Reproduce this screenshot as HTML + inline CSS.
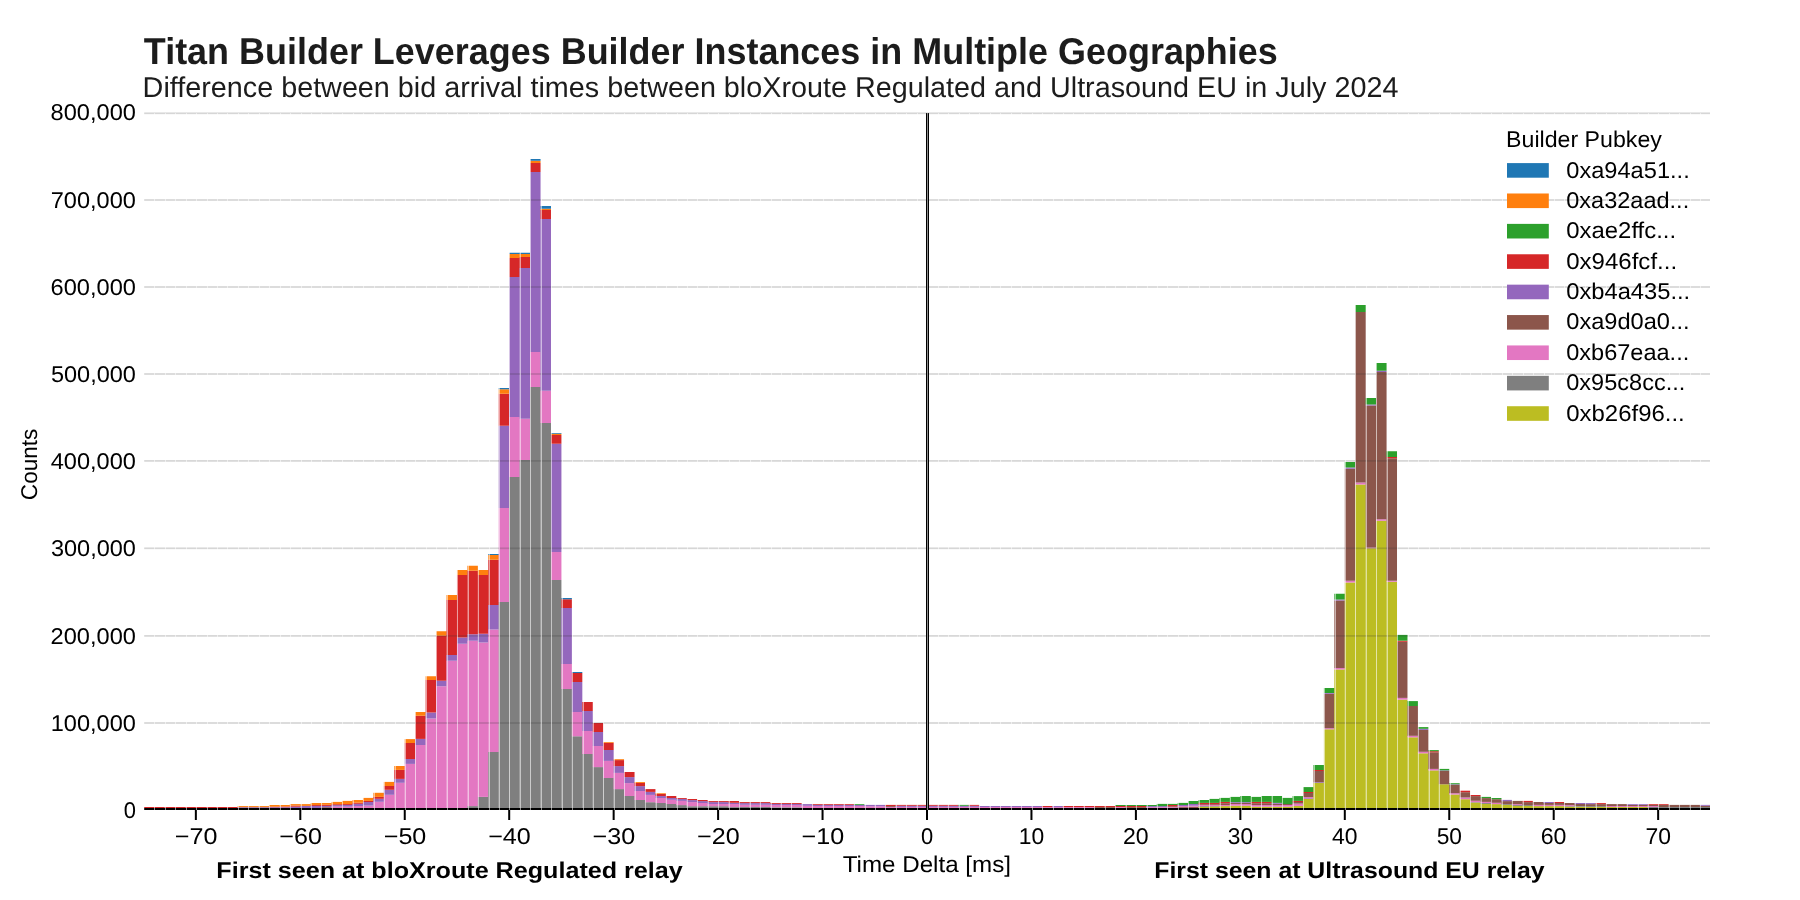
<!DOCTYPE html><html><head><meta charset="utf-8"><style>html,body{margin:0;padding:0;background:#fff;overflow:hidden}svg{display:block;will-change:transform}text{font-family:"Liberation Sans",sans-serif;text-rendering:geometricPrecision}</style></head><body>
<svg width="1800" height="900" viewBox="0 0 1800 900">
<rect width="1800" height="900" fill="#fff"/>
<g>
<rect x="144.20" y="807.00" width="9.87" height="1.00" fill="#d62728"/>
<rect x="154.07" y="807.00" width="10.45" height="1.00" fill="#d62728"/>
<rect x="164.51" y="807.00" width="10.45" height="1.00" fill="#d62728"/>
<rect x="174.96" y="807.00" width="10.44" height="1.00" fill="#d62728"/>
<rect x="185.40" y="807.00" width="10.45" height="1.00" fill="#d62728"/>
<rect x="195.85" y="807.00" width="10.44" height="1.00" fill="#d62728"/>
<rect x="206.29" y="807.00" width="10.45" height="1.00" fill="#d62728"/>
<rect x="216.74" y="807.00" width="10.44" height="1.00" fill="#d62728"/>
<rect x="227.18" y="807.00" width="10.45" height="1.00" fill="#d62728"/>
<rect x="237.63" y="807.20" width="10.44" height="0.80" fill="#9467bd"/>
<rect x="237.63" y="806.10" width="10.44" height="1.10" fill="#ff7f0e"/>
<rect x="248.07" y="807.20" width="10.45" height="0.80" fill="#9467bd"/>
<rect x="248.07" y="806.10" width="10.45" height="1.10" fill="#ff7f0e"/>
<rect x="258.52" y="807.20" width="10.45" height="0.80" fill="#9467bd"/>
<rect x="258.52" y="806.10" width="10.45" height="1.10" fill="#ff7f0e"/>
<rect x="268.97" y="807.20" width="10.44" height="0.80" fill="#9467bd"/>
<rect x="268.97" y="806.70" width="10.44" height="0.50" fill="#d62728"/>
<rect x="268.97" y="805.00" width="10.44" height="1.70" fill="#ff7f0e"/>
<rect x="279.41" y="807.20" width="10.45" height="0.80" fill="#9467bd"/>
<rect x="279.41" y="806.50" width="10.45" height="0.70" fill="#d62728"/>
<rect x="279.41" y="805.00" width="10.45" height="1.50" fill="#ff7f0e"/>
<rect x="289.86" y="806.70" width="10.44" height="1.30" fill="#9467bd"/>
<rect x="289.86" y="805.60" width="10.44" height="1.10" fill="#d62728"/>
<rect x="289.86" y="804.10" width="10.44" height="1.50" fill="#ff7f0e"/>
<rect x="300.30" y="805.90" width="10.45" height="2.10" fill="#9467bd"/>
<rect x="300.30" y="804.10" width="10.45" height="1.80" fill="#ff7f0e"/>
<rect x="310.75" y="805.90" width="10.44" height="2.10" fill="#9467bd"/>
<rect x="310.75" y="805.00" width="10.44" height="0.90" fill="#d62728"/>
<rect x="310.75" y="803.00" width="10.44" height="2.00" fill="#ff7f0e"/>
<rect x="321.19" y="807.20" width="10.45" height="0.80" fill="#8c564b"/>
<rect x="321.19" y="805.90" width="10.45" height="1.30" fill="#9467bd"/>
<rect x="321.19" y="804.80" width="10.45" height="1.10" fill="#d62728"/>
<rect x="321.19" y="803.00" width="10.45" height="1.80" fill="#ff7f0e"/>
<rect x="331.63" y="806.50" width="10.44" height="1.50" fill="#e377c2"/>
<rect x="331.63" y="805.10" width="10.44" height="1.40" fill="#9467bd"/>
<rect x="331.63" y="804.20" width="10.44" height="0.90" fill="#d62728"/>
<rect x="331.63" y="801.90" width="10.44" height="2.30" fill="#ff7f0e"/>
<rect x="342.08" y="806.70" width="10.45" height="1.30" fill="#e377c2"/>
<rect x="342.08" y="804.90" width="10.45" height="1.80" fill="#9467bd"/>
<rect x="342.08" y="804.00" width="10.45" height="0.90" fill="#d62728"/>
<rect x="342.08" y="800.90" width="10.45" height="3.10" fill="#ff7f0e"/>
<rect x="352.52" y="806.00" width="10.45" height="2.00" fill="#e377c2"/>
<rect x="352.52" y="803.80" width="10.45" height="2.20" fill="#9467bd"/>
<rect x="352.52" y="802.70" width="10.45" height="1.10" fill="#d62728"/>
<rect x="352.52" y="800.00" width="10.45" height="2.70" fill="#ff7f0e"/>
<rect x="362.97" y="805.60" width="10.44" height="2.40" fill="#e377c2"/>
<rect x="362.97" y="802.00" width="10.44" height="3.60" fill="#9467bd"/>
<rect x="362.97" y="800.90" width="10.44" height="1.10" fill="#d62728"/>
<rect x="362.97" y="797.90" width="10.44" height="3.00" fill="#ff7f0e"/>
<rect x="373.41" y="801.80" width="10.45" height="6.20" fill="#e377c2"/>
<rect x="373.41" y="798.80" width="10.45" height="3.00" fill="#9467bd"/>
<rect x="373.41" y="796.90" width="10.45" height="1.90" fill="#d62728"/>
<rect x="373.41" y="792.80" width="10.45" height="4.10" fill="#ff7f0e"/>
<rect x="383.86" y="794.80" width="10.44" height="13.20" fill="#e377c2"/>
<rect x="383.86" y="789.80" width="10.44" height="5.00" fill="#9467bd"/>
<rect x="383.86" y="786.00" width="10.44" height="3.80" fill="#d62728"/>
<rect x="383.86" y="781.90" width="10.44" height="4.10" fill="#ff7f0e"/>
<rect x="394.30" y="782.80" width="10.45" height="25.20" fill="#e377c2"/>
<rect x="394.30" y="778.90" width="10.45" height="3.90" fill="#9467bd"/>
<rect x="394.30" y="769.90" width="10.45" height="9.00" fill="#d62728"/>
<rect x="394.30" y="766.00" width="10.45" height="3.90" fill="#ff7f0e"/>
<rect x="404.75" y="763.90" width="10.44" height="44.10" fill="#e377c2"/>
<rect x="404.75" y="759.00" width="10.44" height="4.90" fill="#9467bd"/>
<rect x="404.75" y="743.00" width="10.44" height="16.00" fill="#d62728"/>
<rect x="404.75" y="739.10" width="10.44" height="3.90" fill="#ff7f0e"/>
<rect x="415.19" y="745.00" width="10.44" height="63.00" fill="#e377c2"/>
<rect x="415.19" y="738.90" width="10.44" height="6.10" fill="#9467bd"/>
<rect x="415.19" y="715.75" width="10.44" height="23.15" fill="#d62728"/>
<rect x="415.19" y="712.00" width="10.44" height="3.75" fill="#ff7f0e"/>
<rect x="425.64" y="718.50" width="10.44" height="89.50" fill="#e377c2"/>
<rect x="425.64" y="712.50" width="10.44" height="6.00" fill="#9467bd"/>
<rect x="425.64" y="680.00" width="10.44" height="32.50" fill="#d62728"/>
<rect x="425.64" y="676.25" width="10.44" height="3.75" fill="#ff7f0e"/>
<rect x="436.08" y="686.25" width="10.44" height="121.75" fill="#e377c2"/>
<rect x="436.08" y="680.75" width="10.44" height="5.50" fill="#9467bd"/>
<rect x="436.08" y="635.75" width="10.44" height="45.00" fill="#d62728"/>
<rect x="436.08" y="631.25" width="10.44" height="4.50" fill="#ff7f0e"/>
<rect x="446.53" y="660.75" width="10.44" height="147.25" fill="#e377c2"/>
<rect x="446.53" y="655.00" width="10.44" height="5.75" fill="#9467bd"/>
<rect x="446.53" y="600.00" width="10.44" height="55.00" fill="#d62728"/>
<rect x="446.53" y="595.00" width="10.44" height="5.00" fill="#ff7f0e"/>
<rect x="456.97" y="643.75" width="10.44" height="164.25" fill="#e377c2"/>
<rect x="456.97" y="637.50" width="10.44" height="6.25" fill="#9467bd"/>
<rect x="456.97" y="575.00" width="10.44" height="62.50" fill="#d62728"/>
<rect x="456.97" y="570.00" width="10.44" height="5.00" fill="#ff7f0e"/>
<rect x="467.42" y="806.10" width="10.45" height="1.90" fill="#7f7f7f"/>
<rect x="467.42" y="640.75" width="10.45" height="165.35" fill="#e377c2"/>
<rect x="467.42" y="634.25" width="10.45" height="6.50" fill="#9467bd"/>
<rect x="467.42" y="570.75" width="10.45" height="63.50" fill="#d62728"/>
<rect x="467.42" y="565.75" width="10.45" height="5.00" fill="#ff7f0e"/>
<rect x="477.87" y="796.90" width="10.44" height="11.10" fill="#7f7f7f"/>
<rect x="477.87" y="642.50" width="10.44" height="154.40" fill="#e377c2"/>
<rect x="477.87" y="633.75" width="10.44" height="8.75" fill="#9467bd"/>
<rect x="477.87" y="575.00" width="10.44" height="58.75" fill="#d62728"/>
<rect x="477.87" y="570.00" width="10.44" height="5.00" fill="#ff7f0e"/>
<rect x="488.31" y="752.00" width="10.44" height="56.00" fill="#7f7f7f"/>
<rect x="488.31" y="629.50" width="10.44" height="122.50" fill="#e377c2"/>
<rect x="488.31" y="605.00" width="10.44" height="24.50" fill="#9467bd"/>
<rect x="488.31" y="559.75" width="10.44" height="45.25" fill="#d62728"/>
<rect x="488.31" y="555.00" width="10.44" height="4.75" fill="#ff7f0e"/>
<rect x="488.31" y="554.00" width="10.44" height="1.00" fill="#1f77b4"/>
<rect x="498.75" y="602.00" width="10.44" height="206.00" fill="#7f7f7f"/>
<rect x="498.75" y="508.00" width="10.44" height="94.00" fill="#e377c2"/>
<rect x="498.75" y="425.75" width="10.44" height="82.25" fill="#9467bd"/>
<rect x="498.75" y="393.75" width="10.44" height="32.00" fill="#d62728"/>
<rect x="498.75" y="389.25" width="10.44" height="4.50" fill="#ff7f0e"/>
<rect x="498.75" y="388.00" width="10.44" height="1.25" fill="#1f77b4"/>
<rect x="509.20" y="477.00" width="10.44" height="331.00" fill="#7f7f7f"/>
<rect x="509.20" y="417.00" width="10.44" height="60.00" fill="#e377c2"/>
<rect x="509.20" y="277.00" width="10.44" height="140.00" fill="#9467bd"/>
<rect x="509.20" y="258.00" width="10.44" height="19.00" fill="#d62728"/>
<rect x="509.20" y="254.00" width="10.44" height="4.00" fill="#ff7f0e"/>
<rect x="509.20" y="252.75" width="10.44" height="1.25" fill="#1f77b4"/>
<rect x="519.64" y="460.00" width="10.44" height="348.00" fill="#7f7f7f"/>
<rect x="519.64" y="418.75" width="10.44" height="41.25" fill="#e377c2"/>
<rect x="519.64" y="268.00" width="10.44" height="150.75" fill="#9467bd"/>
<rect x="519.64" y="257.00" width="10.44" height="11.00" fill="#d62728"/>
<rect x="519.64" y="254.00" width="10.44" height="3.00" fill="#ff7f0e"/>
<rect x="519.64" y="252.75" width="10.44" height="1.25" fill="#1f77b4"/>
<rect x="530.09" y="387.00" width="10.45" height="421.00" fill="#7f7f7f"/>
<rect x="530.09" y="352.00" width="10.45" height="35.00" fill="#e377c2"/>
<rect x="530.09" y="172.00" width="10.45" height="180.00" fill="#9467bd"/>
<rect x="530.09" y="163.00" width="10.45" height="9.00" fill="#d62728"/>
<rect x="530.09" y="160.75" width="10.45" height="2.25" fill="#ff7f0e"/>
<rect x="530.09" y="159.00" width="10.45" height="1.75" fill="#1f77b4"/>
<rect x="540.53" y="423.00" width="10.45" height="385.00" fill="#7f7f7f"/>
<rect x="540.53" y="390.75" width="10.45" height="32.25" fill="#e377c2"/>
<rect x="540.53" y="219.00" width="10.45" height="171.75" fill="#9467bd"/>
<rect x="540.53" y="210.00" width="10.45" height="9.00" fill="#d62728"/>
<rect x="540.53" y="208.75" width="10.45" height="1.25" fill="#ff7f0e"/>
<rect x="540.53" y="206.00" width="10.45" height="2.75" fill="#1f77b4"/>
<rect x="550.98" y="580.00" width="10.44" height="228.00" fill="#7f7f7f"/>
<rect x="550.98" y="552.00" width="10.44" height="28.00" fill="#e377c2"/>
<rect x="550.98" y="443.75" width="10.44" height="108.25" fill="#9467bd"/>
<rect x="550.98" y="435.00" width="10.44" height="8.75" fill="#d62728"/>
<rect x="550.98" y="433.75" width="10.44" height="1.25" fill="#ff7f0e"/>
<rect x="550.98" y="433.00" width="10.44" height="0.75" fill="#1f77b4"/>
<rect x="561.42" y="689.00" width="10.45" height="119.00" fill="#7f7f7f"/>
<rect x="561.42" y="664.00" width="10.45" height="25.00" fill="#e377c2"/>
<rect x="561.42" y="608.00" width="10.45" height="56.00" fill="#9467bd"/>
<rect x="561.42" y="599.25" width="10.45" height="8.75" fill="#d62728"/>
<rect x="561.42" y="598.00" width="10.45" height="1.25" fill="#1f77b4"/>
<rect x="571.87" y="736.25" width="10.45" height="71.75" fill="#7f7f7f"/>
<rect x="571.87" y="712.00" width="10.45" height="24.25" fill="#e377c2"/>
<rect x="571.87" y="682.00" width="10.45" height="30.00" fill="#9467bd"/>
<rect x="571.87" y="673.00" width="10.45" height="9.00" fill="#d62728"/>
<rect x="571.87" y="672.00" width="10.45" height="1.00" fill="#1f77b4"/>
<rect x="582.32" y="754.00" width="10.44" height="54.00" fill="#7f7f7f"/>
<rect x="582.32" y="731.00" width="10.44" height="23.00" fill="#e377c2"/>
<rect x="582.32" y="711.00" width="10.44" height="20.00" fill="#9467bd"/>
<rect x="582.32" y="702.00" width="10.44" height="9.00" fill="#d62728"/>
<rect x="592.76" y="767.10" width="10.44" height="40.90" fill="#7f7f7f"/>
<rect x="592.76" y="746.00" width="10.44" height="21.10" fill="#e377c2"/>
<rect x="592.76" y="732.00" width="10.44" height="14.00" fill="#9467bd"/>
<rect x="592.76" y="723.00" width="10.44" height="9.00" fill="#d62728"/>
<rect x="603.20" y="778.00" width="10.45" height="30.00" fill="#7f7f7f"/>
<rect x="603.20" y="760.90" width="10.45" height="17.10" fill="#e377c2"/>
<rect x="603.20" y="750.00" width="10.45" height="10.90" fill="#9467bd"/>
<rect x="603.20" y="742.90" width="10.45" height="7.10" fill="#d62728"/>
<rect x="603.20" y="742.10" width="10.45" height="0.80" fill="#ff7f0e"/>
<rect x="613.65" y="789.10" width="10.45" height="18.90" fill="#7f7f7f"/>
<rect x="613.65" y="772.90" width="10.45" height="16.20" fill="#e377c2"/>
<rect x="613.65" y="766.10" width="10.45" height="6.80" fill="#9467bd"/>
<rect x="613.65" y="760.10" width="10.45" height="6.00" fill="#d62728"/>
<rect x="613.65" y="759.20" width="10.45" height="0.90" fill="#ff7f0e"/>
<rect x="624.10" y="796.00" width="10.44" height="12.00" fill="#7f7f7f"/>
<rect x="624.10" y="783.10" width="10.44" height="12.90" fill="#e377c2"/>
<rect x="624.10" y="777.10" width="10.44" height="6.00" fill="#9467bd"/>
<rect x="624.10" y="772.00" width="10.44" height="5.10" fill="#d62728"/>
<rect x="634.54" y="800.00" width="10.45" height="8.00" fill="#7f7f7f"/>
<rect x="634.54" y="791.00" width="10.45" height="9.00" fill="#e377c2"/>
<rect x="634.54" y="786.10" width="10.45" height="4.90" fill="#9467bd"/>
<rect x="634.54" y="782.90" width="10.45" height="3.20" fill="#d62728"/>
<rect x="634.54" y="782.00" width="10.45" height="0.90" fill="#ff7f0e"/>
<rect x="644.99" y="802.20" width="10.45" height="5.80" fill="#7f7f7f"/>
<rect x="644.99" y="794.90" width="10.45" height="7.30" fill="#e377c2"/>
<rect x="644.99" y="791.90" width="10.45" height="3.00" fill="#9467bd"/>
<rect x="644.99" y="789.10" width="10.45" height="2.80" fill="#d62728"/>
<rect x="655.43" y="803.00" width="10.44" height="5.00" fill="#7f7f7f"/>
<rect x="655.43" y="798.00" width="10.44" height="5.00" fill="#e377c2"/>
<rect x="655.43" y="796.00" width="10.44" height="2.00" fill="#9467bd"/>
<rect x="655.43" y="793.90" width="10.44" height="2.10" fill="#d62728"/>
<rect x="655.43" y="793.20" width="10.44" height="0.70" fill="#ff7f0e"/>
<rect x="665.88" y="804.00" width="10.44" height="4.00" fill="#7f7f7f"/>
<rect x="665.88" y="799.80" width="10.44" height="4.20" fill="#e377c2"/>
<rect x="665.88" y="798.00" width="10.44" height="1.80" fill="#9467bd"/>
<rect x="665.88" y="796.00" width="10.44" height="2.00" fill="#d62728"/>
<rect x="676.32" y="805.10" width="10.45" height="2.90" fill="#7f7f7f"/>
<rect x="676.32" y="800.90" width="10.45" height="4.20" fill="#e377c2"/>
<rect x="676.32" y="798.90" width="10.45" height="2.00" fill="#9467bd"/>
<rect x="676.32" y="798.00" width="10.45" height="0.90" fill="#d62728"/>
<rect x="686.76" y="806.20" width="10.45" height="1.80" fill="#7f7f7f"/>
<rect x="686.76" y="802.10" width="10.45" height="4.10" fill="#e377c2"/>
<rect x="686.76" y="800.10" width="10.45" height="2.00" fill="#9467bd"/>
<rect x="686.76" y="799.00" width="10.45" height="1.10" fill="#d62728"/>
<rect x="697.21" y="806.20" width="10.44" height="1.80" fill="#7f7f7f"/>
<rect x="697.21" y="803.00" width="10.44" height="3.20" fill="#e377c2"/>
<rect x="697.21" y="801.10" width="10.44" height="1.90" fill="#9467bd"/>
<rect x="697.21" y="800.00" width="10.44" height="1.10" fill="#d62728"/>
<rect x="707.65" y="806.20" width="10.45" height="1.80" fill="#7f7f7f"/>
<rect x="707.65" y="804.00" width="10.45" height="2.20" fill="#e377c2"/>
<rect x="707.65" y="802.10" width="10.45" height="1.90" fill="#9467bd"/>
<rect x="707.65" y="801.10" width="10.45" height="1.00" fill="#d62728"/>
<rect x="718.10" y="806.20" width="10.44" height="1.80" fill="#7f7f7f"/>
<rect x="718.10" y="804.00" width="10.44" height="2.20" fill="#e377c2"/>
<rect x="718.10" y="802.10" width="10.44" height="1.90" fill="#9467bd"/>
<rect x="718.10" y="801.10" width="10.44" height="1.00" fill="#d62728"/>
<rect x="728.54" y="807.10" width="10.45" height="0.90" fill="#7f7f7f"/>
<rect x="728.54" y="804.00" width="10.45" height="3.10" fill="#e377c2"/>
<rect x="728.54" y="802.80" width="10.45" height="1.20" fill="#9467bd"/>
<rect x="728.54" y="801.00" width="10.45" height="1.80" fill="#d62728"/>
<rect x="738.99" y="807.00" width="10.44" height="1.00" fill="#7f7f7f"/>
<rect x="738.99" y="804.80" width="10.44" height="2.20" fill="#e377c2"/>
<rect x="738.99" y="803.10" width="10.44" height="1.70" fill="#9467bd"/>
<rect x="738.99" y="802.10" width="10.44" height="1.00" fill="#d62728"/>
<rect x="749.43" y="807.00" width="10.45" height="1.00" fill="#7f7f7f"/>
<rect x="749.43" y="804.80" width="10.45" height="2.20" fill="#e377c2"/>
<rect x="749.43" y="803.10" width="10.45" height="1.70" fill="#9467bd"/>
<rect x="749.43" y="802.10" width="10.45" height="1.00" fill="#d62728"/>
<rect x="759.88" y="807.00" width="10.45" height="1.00" fill="#7f7f7f"/>
<rect x="759.88" y="804.80" width="10.45" height="2.20" fill="#e377c2"/>
<rect x="759.88" y="803.10" width="10.45" height="1.70" fill="#9467bd"/>
<rect x="759.88" y="802.10" width="10.45" height="1.00" fill="#d62728"/>
<rect x="770.33" y="807.30" width="10.44" height="0.70" fill="#7f7f7f"/>
<rect x="770.33" y="805.00" width="10.44" height="2.30" fill="#e377c2"/>
<rect x="770.33" y="804.00" width="10.44" height="1.00" fill="#9467bd"/>
<rect x="770.33" y="803.10" width="10.44" height="0.90" fill="#d62728"/>
<rect x="780.77" y="807.30" width="10.45" height="0.70" fill="#7f7f7f"/>
<rect x="780.77" y="805.00" width="10.45" height="2.30" fill="#e377c2"/>
<rect x="780.77" y="804.00" width="10.45" height="1.00" fill="#9467bd"/>
<rect x="780.77" y="803.10" width="10.45" height="0.90" fill="#d62728"/>
<rect x="791.22" y="807.30" width="10.44" height="0.70" fill="#7f7f7f"/>
<rect x="791.22" y="805.00" width="10.44" height="2.30" fill="#e377c2"/>
<rect x="791.22" y="804.00" width="10.44" height="1.00" fill="#9467bd"/>
<rect x="791.22" y="803.10" width="10.44" height="0.90" fill="#d62728"/>
<rect x="801.66" y="805.80" width="10.45" height="2.20" fill="#e377c2"/>
<rect x="801.66" y="804.10" width="10.45" height="1.70" fill="#9467bd"/>
<rect x="812.11" y="806.00" width="10.44" height="2.00" fill="#e377c2"/>
<rect x="812.11" y="804.90" width="10.44" height="1.10" fill="#9467bd"/>
<rect x="812.11" y="804.10" width="10.44" height="0.80" fill="#d62728"/>
<rect x="822.55" y="806.00" width="10.45" height="2.00" fill="#e377c2"/>
<rect x="822.55" y="804.90" width="10.45" height="1.10" fill="#9467bd"/>
<rect x="822.55" y="804.10" width="10.45" height="0.80" fill="#d62728"/>
<rect x="833.00" y="806.00" width="10.45" height="2.00" fill="#e377c2"/>
<rect x="833.00" y="804.90" width="10.45" height="1.10" fill="#9467bd"/>
<rect x="833.00" y="804.10" width="10.45" height="0.80" fill="#d62728"/>
<rect x="843.44" y="806.00" width="10.44" height="2.00" fill="#e377c2"/>
<rect x="843.44" y="804.90" width="10.44" height="1.10" fill="#9467bd"/>
<rect x="843.44" y="804.10" width="10.44" height="0.80" fill="#d62728"/>
<rect x="853.88" y="806.00" width="10.45" height="2.00" fill="#e377c2"/>
<rect x="853.88" y="804.90" width="10.45" height="1.10" fill="#9467bd"/>
<rect x="853.88" y="804.10" width="10.45" height="0.80" fill="#2ca02c"/>
<rect x="864.33" y="806.20" width="10.44" height="1.80" fill="#e377c2"/>
<rect x="864.33" y="804.90" width="10.44" height="1.30" fill="#9467bd"/>
<rect x="874.77" y="806.20" width="10.45" height="1.80" fill="#e377c2"/>
<rect x="874.77" y="804.90" width="10.45" height="1.30" fill="#9467bd"/>
<rect x="885.22" y="806.90" width="10.44" height="1.10" fill="#e377c2"/>
<rect x="885.22" y="806.00" width="10.44" height="0.90" fill="#8c564b"/>
<rect x="885.22" y="804.90" width="10.44" height="1.10" fill="#d62728"/>
<rect x="895.66" y="806.90" width="10.45" height="1.10" fill="#e377c2"/>
<rect x="895.66" y="805.80" width="10.45" height="1.10" fill="#9467bd"/>
<rect x="895.66" y="804.90" width="10.45" height="0.90" fill="#d62728"/>
<rect x="906.11" y="806.90" width="10.44" height="1.10" fill="#e377c2"/>
<rect x="906.11" y="805.80" width="10.44" height="1.10" fill="#9467bd"/>
<rect x="906.11" y="804.90" width="10.44" height="0.90" fill="#d62728"/>
<rect x="916.55" y="806.90" width="10.45" height="1.10" fill="#e377c2"/>
<rect x="916.55" y="805.80" width="10.45" height="1.10" fill="#9467bd"/>
<rect x="916.55" y="804.90" width="10.45" height="0.90" fill="#d62728"/>
<rect x="927.00" y="806.90" width="10.45" height="1.10" fill="#e377c2"/>
<rect x="927.00" y="805.80" width="10.45" height="1.10" fill="#9467bd"/>
<rect x="927.00" y="804.90" width="10.45" height="0.90" fill="#d62728"/>
<rect x="937.45" y="806.90" width="10.44" height="1.10" fill="#e377c2"/>
<rect x="937.45" y="805.80" width="10.44" height="1.10" fill="#9467bd"/>
<rect x="937.45" y="804.90" width="10.44" height="0.90" fill="#d62728"/>
<rect x="947.89" y="806.90" width="10.45" height="1.10" fill="#e377c2"/>
<rect x="947.89" y="805.80" width="10.45" height="1.10" fill="#9467bd"/>
<rect x="947.89" y="804.90" width="10.45" height="0.90" fill="#d62728"/>
<rect x="958.34" y="806.90" width="10.44" height="1.10" fill="#e377c2"/>
<rect x="958.34" y="805.80" width="10.44" height="1.10" fill="#9467bd"/>
<rect x="958.34" y="804.90" width="10.44" height="0.90" fill="#2ca02c"/>
<rect x="968.78" y="806.90" width="10.45" height="1.10" fill="#e377c2"/>
<rect x="968.78" y="805.80" width="10.45" height="1.10" fill="#9467bd"/>
<rect x="968.78" y="804.90" width="10.45" height="0.90" fill="#d62728"/>
<rect x="979.23" y="807.00" width="10.44" height="1.00" fill="#e377c2"/>
<rect x="979.23" y="806.00" width="10.44" height="1.00" fill="#9467bd"/>
<rect x="989.67" y="807.00" width="10.45" height="1.00" fill="#e377c2"/>
<rect x="989.67" y="806.00" width="10.45" height="1.00" fill="#9467bd"/>
<rect x="1000.12" y="807.00" width="10.44" height="1.00" fill="#e377c2"/>
<rect x="1000.12" y="806.00" width="10.44" height="1.00" fill="#9467bd"/>
<rect x="1010.56" y="807.00" width="10.45" height="1.00" fill="#e377c2"/>
<rect x="1010.56" y="806.00" width="10.45" height="1.00" fill="#9467bd"/>
<rect x="1021.00" y="807.00" width="10.45" height="1.00" fill="#e377c2"/>
<rect x="1021.00" y="806.00" width="10.45" height="1.00" fill="#9467bd"/>
<rect x="1031.45" y="807.00" width="10.44" height="1.00" fill="#e377c2"/>
<rect x="1031.45" y="806.00" width="10.44" height="1.00" fill="#9467bd"/>
<rect x="1041.89" y="807.10" width="10.44" height="0.90" fill="#e377c2"/>
<rect x="1041.89" y="806.00" width="10.44" height="1.10" fill="#d62728"/>
<rect x="1052.34" y="807.10" width="10.45" height="0.90" fill="#e377c2"/>
<rect x="1052.34" y="806.00" width="10.45" height="1.10" fill="#9467bd"/>
<rect x="1062.79" y="807.10" width="10.44" height="0.90" fill="#e377c2"/>
<rect x="1062.79" y="806.00" width="10.44" height="1.10" fill="#d62728"/>
<rect x="1073.23" y="807.10" width="10.44" height="0.90" fill="#e377c2"/>
<rect x="1073.23" y="806.00" width="10.44" height="1.10" fill="#d62728"/>
<rect x="1083.67" y="807.10" width="10.44" height="0.90" fill="#e377c2"/>
<rect x="1083.67" y="806.00" width="10.44" height="1.10" fill="#d62728"/>
<rect x="1094.12" y="807.10" width="10.45" height="0.90" fill="#8c564b"/>
<rect x="1094.12" y="806.00" width="10.45" height="1.10" fill="#d62728"/>
<rect x="1104.57" y="807.10" width="10.44" height="0.90" fill="#8c564b"/>
<rect x="1104.57" y="806.00" width="10.44" height="1.10" fill="#d62728"/>
<rect x="1115.01" y="807.10" width="10.44" height="0.90" fill="#e377c2"/>
<rect x="1115.01" y="806.00" width="10.44" height="1.10" fill="#d62728"/>
<rect x="1115.01" y="805.00" width="10.44" height="1.00" fill="#2ca02c"/>
<rect x="1125.45" y="807.10" width="10.45" height="0.90" fill="#8c564b"/>
<rect x="1125.45" y="806.00" width="10.45" height="1.10" fill="#d62728"/>
<rect x="1125.45" y="805.00" width="10.45" height="1.00" fill="#2ca02c"/>
<rect x="1135.90" y="807.10" width="10.44" height="0.90" fill="#8c564b"/>
<rect x="1135.90" y="806.00" width="10.44" height="1.10" fill="#d62728"/>
<rect x="1135.90" y="805.00" width="10.44" height="1.00" fill="#2ca02c"/>
<rect x="1146.35" y="807.10" width="10.44" height="0.90" fill="#e377c2"/>
<rect x="1146.35" y="806.10" width="10.44" height="1.00" fill="#9467bd"/>
<rect x="1146.35" y="805.00" width="10.44" height="1.10" fill="#2ca02c"/>
<rect x="1156.79" y="807.10" width="10.45" height="0.90" fill="#e377c2"/>
<rect x="1156.79" y="806.10" width="10.45" height="1.00" fill="#9467bd"/>
<rect x="1156.79" y="803.90" width="10.45" height="2.20" fill="#2ca02c"/>
<rect x="1167.24" y="807.10" width="10.44" height="0.90" fill="#e377c2"/>
<rect x="1167.24" y="806.20" width="10.44" height="0.90" fill="#8c564b"/>
<rect x="1167.24" y="805.00" width="10.44" height="1.20" fill="#d62728"/>
<rect x="1167.24" y="803.90" width="10.44" height="1.10" fill="#2ca02c"/>
<rect x="1177.68" y="807.10" width="10.44" height="0.90" fill="#8c564b"/>
<rect x="1177.68" y="806.10" width="10.44" height="1.00" fill="#e377c2"/>
<rect x="1177.68" y="805.00" width="10.44" height="1.10" fill="#9467bd"/>
<rect x="1177.68" y="802.90" width="10.44" height="2.10" fill="#2ca02c"/>
<rect x="1188.12" y="806.70" width="10.44" height="1.30" fill="#8c564b"/>
<rect x="1188.12" y="805.70" width="10.44" height="1.00" fill="#e377c2"/>
<rect x="1188.12" y="804.00" width="10.44" height="1.70" fill="#9467bd"/>
<rect x="1188.12" y="801.00" width="10.44" height="3.00" fill="#2ca02c"/>
<rect x="1198.57" y="806.70" width="10.44" height="1.30" fill="#bcbd22"/>
<rect x="1198.57" y="806.00" width="10.44" height="0.70" fill="#7f7f7f"/>
<rect x="1198.57" y="805.00" width="10.44" height="1.00" fill="#e377c2"/>
<rect x="1198.57" y="804.20" width="10.44" height="0.80" fill="#8c564b"/>
<rect x="1198.57" y="802.90" width="10.44" height="1.30" fill="#d62728"/>
<rect x="1198.57" y="800.00" width="10.44" height="2.90" fill="#2ca02c"/>
<rect x="1209.01" y="806.50" width="10.45" height="1.50" fill="#bcbd22"/>
<rect x="1209.01" y="806.00" width="10.45" height="0.50" fill="#7f7f7f"/>
<rect x="1209.01" y="805.00" width="10.45" height="1.00" fill="#e377c2"/>
<rect x="1209.01" y="804.20" width="10.45" height="0.80" fill="#8c564b"/>
<rect x="1209.01" y="802.90" width="10.45" height="1.30" fill="#d62728"/>
<rect x="1209.01" y="798.90" width="10.45" height="4.00" fill="#2ca02c"/>
<rect x="1219.46" y="806.10" width="10.44" height="1.90" fill="#bcbd22"/>
<rect x="1219.46" y="805.00" width="10.44" height="1.10" fill="#e377c2"/>
<rect x="1219.46" y="803.20" width="10.44" height="1.80" fill="#8c564b"/>
<rect x="1219.46" y="801.90" width="10.44" height="1.30" fill="#d62728"/>
<rect x="1219.46" y="797.90" width="10.44" height="4.00" fill="#2ca02c"/>
<rect x="1229.90" y="805.70" width="10.44" height="2.30" fill="#bcbd22"/>
<rect x="1229.90" y="804.00" width="10.44" height="1.70" fill="#e377c2"/>
<rect x="1229.90" y="802.90" width="10.44" height="1.10" fill="#8c564b"/>
<rect x="1229.90" y="802.10" width="10.44" height="0.80" fill="#9467bd"/>
<rect x="1229.90" y="796.90" width="10.44" height="5.20" fill="#2ca02c"/>
<rect x="1240.35" y="805.70" width="10.45" height="2.30" fill="#bcbd22"/>
<rect x="1240.35" y="804.00" width="10.45" height="1.70" fill="#e377c2"/>
<rect x="1240.35" y="802.90" width="10.45" height="1.10" fill="#8c564b"/>
<rect x="1240.35" y="802.10" width="10.45" height="0.80" fill="#9467bd"/>
<rect x="1240.35" y="796.00" width="10.45" height="6.10" fill="#2ca02c"/>
<rect x="1250.80" y="806.70" width="10.44" height="1.30" fill="#bcbd22"/>
<rect x="1250.80" y="805.00" width="10.44" height="1.70" fill="#e377c2"/>
<rect x="1250.80" y="803.20" width="10.44" height="1.80" fill="#8c564b"/>
<rect x="1250.80" y="801.90" width="10.44" height="1.30" fill="#d62728"/>
<rect x="1250.80" y="796.90" width="10.44" height="5.00" fill="#2ca02c"/>
<rect x="1261.24" y="806.70" width="10.44" height="1.30" fill="#bcbd22"/>
<rect x="1261.24" y="805.00" width="10.44" height="1.70" fill="#e377c2"/>
<rect x="1261.24" y="803.20" width="10.44" height="1.80" fill="#8c564b"/>
<rect x="1261.24" y="801.90" width="10.44" height="1.30" fill="#d62728"/>
<rect x="1261.24" y="796.00" width="10.44" height="5.90" fill="#2ca02c"/>
<rect x="1271.68" y="806.70" width="10.45" height="1.30" fill="#bcbd22"/>
<rect x="1271.68" y="805.00" width="10.45" height="1.70" fill="#e377c2"/>
<rect x="1271.68" y="803.80" width="10.45" height="1.20" fill="#8c564b"/>
<rect x="1271.68" y="802.90" width="10.45" height="0.90" fill="#9467bd"/>
<rect x="1271.68" y="796.00" width="10.45" height="6.90" fill="#2ca02c"/>
<rect x="1282.13" y="806.70" width="10.44" height="1.30" fill="#bcbd22"/>
<rect x="1282.13" y="805.00" width="10.44" height="1.70" fill="#e377c2"/>
<rect x="1282.13" y="804.00" width="10.44" height="1.00" fill="#8c564b"/>
<rect x="1282.13" y="797.90" width="10.44" height="6.10" fill="#2ca02c"/>
<rect x="1292.58" y="805.90" width="10.44" height="2.10" fill="#bcbd22"/>
<rect x="1292.58" y="803.60" width="10.44" height="2.30" fill="#e377c2"/>
<rect x="1292.58" y="802.00" width="10.44" height="1.60" fill="#8c564b"/>
<rect x="1292.58" y="800.90" width="10.44" height="1.10" fill="#d62728"/>
<rect x="1292.58" y="796.10" width="10.44" height="4.80" fill="#2ca02c"/>
<rect x="1303.02" y="798.90" width="10.45" height="9.10" fill="#bcbd22"/>
<rect x="1303.02" y="798.20" width="10.45" height="0.70" fill="#9467bd"/>
<rect x="1303.02" y="797.10" width="10.45" height="1.10" fill="#e377c2"/>
<rect x="1303.02" y="793.00" width="10.45" height="4.10" fill="#8c564b"/>
<rect x="1303.02" y="792.00" width="10.45" height="1.00" fill="#d62728"/>
<rect x="1303.02" y="787.10" width="10.45" height="4.90" fill="#2ca02c"/>
<rect x="1313.47" y="782.90" width="10.44" height="25.10" fill="#bcbd22"/>
<rect x="1313.47" y="782.20" width="10.44" height="0.70" fill="#9467bd"/>
<rect x="1313.47" y="771.00" width="10.44" height="11.20" fill="#8c564b"/>
<rect x="1313.47" y="770.00" width="10.44" height="1.00" fill="#d62728"/>
<rect x="1313.47" y="765.00" width="10.44" height="5.00" fill="#2ca02c"/>
<rect x="1323.91" y="729.30" width="10.44" height="78.70" fill="#bcbd22"/>
<rect x="1323.91" y="728.20" width="10.44" height="1.10" fill="#e377c2"/>
<rect x="1323.91" y="693.80" width="10.44" height="34.40" fill="#8c564b"/>
<rect x="1323.91" y="693.00" width="10.44" height="0.80" fill="#9467bd"/>
<rect x="1323.91" y="688.00" width="10.44" height="5.00" fill="#2ca02c"/>
<rect x="1334.36" y="669.50" width="10.44" height="138.50" fill="#bcbd22"/>
<rect x="1334.36" y="668.00" width="10.44" height="1.50" fill="#e377c2"/>
<rect x="1334.36" y="600.50" width="10.44" height="67.50" fill="#8c564b"/>
<rect x="1334.36" y="599.50" width="10.44" height="1.00" fill="#9467bd"/>
<rect x="1334.36" y="593.75" width="10.44" height="5.75" fill="#2ca02c"/>
<rect x="1344.80" y="582.50" width="10.44" height="225.50" fill="#bcbd22"/>
<rect x="1344.80" y="580.75" width="10.44" height="1.75" fill="#e377c2"/>
<rect x="1344.80" y="468.75" width="10.44" height="112.00" fill="#8c564b"/>
<rect x="1344.80" y="467.50" width="10.44" height="1.25" fill="#9467bd"/>
<rect x="1344.80" y="462.00" width="10.44" height="5.50" fill="#2ca02c"/>
<rect x="1355.24" y="484.50" width="10.45" height="323.50" fill="#bcbd22"/>
<rect x="1355.24" y="482.50" width="10.45" height="2.00" fill="#e377c2"/>
<rect x="1355.24" y="312.00" width="10.45" height="170.50" fill="#8c564b"/>
<rect x="1355.24" y="305.00" width="10.45" height="7.00" fill="#2ca02c"/>
<rect x="1365.69" y="548.25" width="10.44" height="259.75" fill="#bcbd22"/>
<rect x="1365.69" y="547.50" width="10.44" height="0.75" fill="#e377c2"/>
<rect x="1365.69" y="405.50" width="10.44" height="142.00" fill="#8c564b"/>
<rect x="1365.69" y="404.50" width="10.44" height="1.00" fill="#9467bd"/>
<rect x="1365.69" y="398.00" width="10.44" height="6.50" fill="#2ca02c"/>
<rect x="1376.13" y="520.75" width="10.44" height="287.25" fill="#bcbd22"/>
<rect x="1376.13" y="519.25" width="10.44" height="1.50" fill="#e377c2"/>
<rect x="1376.13" y="372.00" width="10.44" height="147.25" fill="#8c564b"/>
<rect x="1376.13" y="370.75" width="10.44" height="1.25" fill="#9467bd"/>
<rect x="1376.13" y="363.00" width="10.44" height="7.75" fill="#2ca02c"/>
<rect x="1386.58" y="581.75" width="10.45" height="226.25" fill="#bcbd22"/>
<rect x="1386.58" y="580.75" width="10.45" height="1.00" fill="#e377c2"/>
<rect x="1386.58" y="458.25" width="10.45" height="122.50" fill="#8c564b"/>
<rect x="1386.58" y="457.00" width="10.45" height="1.25" fill="#d62728"/>
<rect x="1386.58" y="451.25" width="10.45" height="5.75" fill="#2ca02c"/>
<rect x="1397.03" y="699.60" width="10.44" height="108.40" fill="#bcbd22"/>
<rect x="1397.03" y="697.90" width="10.44" height="1.70" fill="#e377c2"/>
<rect x="1397.03" y="641.80" width="10.44" height="56.10" fill="#8c564b"/>
<rect x="1397.03" y="640.70" width="10.44" height="1.10" fill="#d62728"/>
<rect x="1397.03" y="634.90" width="10.44" height="5.80" fill="#2ca02c"/>
<rect x="1407.47" y="737.30" width="10.44" height="70.70" fill="#bcbd22"/>
<rect x="1407.47" y="735.80" width="10.44" height="1.50" fill="#e377c2"/>
<rect x="1407.47" y="706.00" width="10.44" height="29.80" fill="#8c564b"/>
<rect x="1407.47" y="701.10" width="10.44" height="4.90" fill="#2ca02c"/>
<rect x="1417.91" y="753.30" width="10.45" height="54.70" fill="#bcbd22"/>
<rect x="1417.91" y="751.80" width="10.45" height="1.50" fill="#e377c2"/>
<rect x="1417.91" y="729.90" width="10.45" height="21.90" fill="#8c564b"/>
<rect x="1417.91" y="728.80" width="10.45" height="1.10" fill="#9467bd"/>
<rect x="1417.91" y="727.10" width="10.45" height="1.70" fill="#2ca02c"/>
<rect x="1428.36" y="770.40" width="10.44" height="37.60" fill="#bcbd22"/>
<rect x="1428.36" y="768.90" width="10.44" height="1.50" fill="#e377c2"/>
<rect x="1428.36" y="752.30" width="10.44" height="16.60" fill="#8c564b"/>
<rect x="1428.36" y="751.20" width="10.44" height="1.10" fill="#d62728"/>
<rect x="1428.36" y="750.10" width="10.44" height="1.10" fill="#2ca02c"/>
<rect x="1438.81" y="784.30" width="10.44" height="23.70" fill="#bcbd22"/>
<rect x="1438.81" y="771.00" width="10.44" height="13.30" fill="#8c564b"/>
<rect x="1438.81" y="770.40" width="10.44" height="0.60" fill="#9467bd"/>
<rect x="1438.81" y="768.90" width="10.44" height="1.50" fill="#2ca02c"/>
<rect x="1449.25" y="794.50" width="10.45" height="13.50" fill="#bcbd22"/>
<rect x="1449.25" y="793.20" width="10.45" height="1.30" fill="#e377c2"/>
<rect x="1449.25" y="784.90" width="10.45" height="8.30" fill="#8c564b"/>
<rect x="1449.25" y="784.30" width="10.45" height="0.60" fill="#9467bd"/>
<rect x="1449.25" y="783.20" width="10.45" height="1.10" fill="#2ca02c"/>
<rect x="1459.70" y="799.20" width="10.44" height="8.80" fill="#bcbd22"/>
<rect x="1459.70" y="797.50" width="10.44" height="1.70" fill="#e377c2"/>
<rect x="1459.70" y="792.20" width="10.44" height="5.30" fill="#8c564b"/>
<rect x="1459.70" y="790.70" width="10.44" height="1.50" fill="#d62728"/>
<rect x="1470.14" y="802.60" width="10.45" height="5.40" fill="#bcbd22"/>
<rect x="1470.14" y="802.10" width="10.45" height="0.50" fill="#7f7f7f"/>
<rect x="1470.14" y="800.75" width="10.45" height="1.35" fill="#e377c2"/>
<rect x="1470.14" y="796.10" width="10.45" height="4.65" fill="#8c564b"/>
<rect x="1470.14" y="795.00" width="10.45" height="1.10" fill="#d62728"/>
<rect x="1480.59" y="803.90" width="10.44" height="4.10" fill="#bcbd22"/>
<rect x="1480.59" y="803.00" width="10.44" height="0.90" fill="#7f7f7f"/>
<rect x="1480.59" y="801.90" width="10.44" height="1.10" fill="#e377c2"/>
<rect x="1480.59" y="798.10" width="10.44" height="3.80" fill="#8c564b"/>
<rect x="1480.59" y="796.90" width="10.44" height="1.20" fill="#2ca02c"/>
<rect x="1491.03" y="804.10" width="10.44" height="3.90" fill="#bcbd22"/>
<rect x="1491.03" y="802.80" width="10.44" height="1.30" fill="#e377c2"/>
<rect x="1491.03" y="799.20" width="10.44" height="3.60" fill="#8c564b"/>
<rect x="1491.03" y="798.00" width="10.44" height="1.20" fill="#2ca02c"/>
<rect x="1501.47" y="804.90" width="10.45" height="3.10" fill="#bcbd22"/>
<rect x="1501.47" y="804.10" width="10.45" height="0.80" fill="#7f7f7f"/>
<rect x="1501.47" y="801.10" width="10.45" height="3.00" fill="#8c564b"/>
<rect x="1501.47" y="799.90" width="10.45" height="1.20" fill="#9467bd"/>
<rect x="1511.92" y="806.00" width="10.44" height="2.00" fill="#bcbd22"/>
<rect x="1511.92" y="805.10" width="10.44" height="0.90" fill="#7f7f7f"/>
<rect x="1511.92" y="804.10" width="10.44" height="1.00" fill="#e377c2"/>
<rect x="1511.92" y="800.90" width="10.44" height="3.20" fill="#8c564b"/>
<rect x="1522.37" y="806.00" width="10.44" height="2.00" fill="#bcbd22"/>
<rect x="1522.37" y="805.10" width="10.44" height="0.90" fill="#7f7f7f"/>
<rect x="1522.37" y="802.10" width="10.44" height="3.00" fill="#8c564b"/>
<rect x="1522.37" y="800.90" width="10.44" height="1.20" fill="#d62728"/>
<rect x="1532.81" y="806.10" width="10.45" height="1.90" fill="#bcbd22"/>
<rect x="1532.81" y="804.90" width="10.45" height="1.20" fill="#e377c2"/>
<rect x="1532.81" y="802.00" width="10.45" height="2.90" fill="#8c564b"/>
<rect x="1543.26" y="806.10" width="10.44" height="1.90" fill="#bcbd22"/>
<rect x="1543.26" y="804.90" width="10.44" height="1.20" fill="#e377c2"/>
<rect x="1543.26" y="803.00" width="10.44" height="1.90" fill="#8c564b"/>
<rect x="1543.26" y="802.00" width="10.44" height="1.00" fill="#9467bd"/>
<rect x="1553.70" y="806.10" width="10.44" height="1.90" fill="#bcbd22"/>
<rect x="1553.70" y="804.90" width="10.44" height="1.20" fill="#e377c2"/>
<rect x="1553.70" y="803.00" width="10.44" height="1.90" fill="#8c564b"/>
<rect x="1553.70" y="802.00" width="10.44" height="1.00" fill="#d62728"/>
<rect x="1564.14" y="806.70" width="10.45" height="1.30" fill="#bcbd22"/>
<rect x="1564.14" y="806.10" width="10.45" height="0.60" fill="#7f7f7f"/>
<rect x="1564.14" y="805.10" width="10.45" height="1.00" fill="#e377c2"/>
<rect x="1564.14" y="803.00" width="10.45" height="2.10" fill="#8c564b"/>
<rect x="1574.59" y="806.70" width="10.44" height="1.30" fill="#bcbd22"/>
<rect x="1574.59" y="806.00" width="10.44" height="0.70" fill="#7f7f7f"/>
<rect x="1574.59" y="804.00" width="10.44" height="2.00" fill="#8c564b"/>
<rect x="1574.59" y="803.00" width="10.44" height="1.00" fill="#9467bd"/>
<rect x="1585.03" y="807.00" width="10.45" height="1.00" fill="#bcbd22"/>
<rect x="1585.03" y="806.20" width="10.45" height="0.80" fill="#7f7f7f"/>
<rect x="1585.03" y="804.10" width="10.45" height="2.10" fill="#8c564b"/>
<rect x="1585.03" y="803.10" width="10.45" height="1.00" fill="#9467bd"/>
<rect x="1595.48" y="807.00" width="10.45" height="1.00" fill="#bcbd22"/>
<rect x="1595.48" y="806.20" width="10.45" height="0.80" fill="#7f7f7f"/>
<rect x="1595.48" y="804.10" width="10.45" height="2.10" fill="#8c564b"/>
<rect x="1595.48" y="803.10" width="10.45" height="1.00" fill="#d62728"/>
<rect x="1605.93" y="807.00" width="10.44" height="1.00" fill="#bcbd22"/>
<rect x="1605.93" y="806.00" width="10.44" height="1.00" fill="#e377c2"/>
<rect x="1605.93" y="804.10" width="10.44" height="1.90" fill="#8c564b"/>
<rect x="1616.37" y="807.00" width="10.45" height="1.00" fill="#bcbd22"/>
<rect x="1616.37" y="806.00" width="10.45" height="1.00" fill="#e377c2"/>
<rect x="1616.37" y="804.10" width="10.45" height="1.90" fill="#8c564b"/>
<rect x="1626.82" y="807.00" width="10.44" height="1.00" fill="#bcbd22"/>
<rect x="1626.82" y="806.00" width="10.44" height="1.00" fill="#e377c2"/>
<rect x="1626.82" y="804.90" width="10.44" height="1.10" fill="#8c564b"/>
<rect x="1626.82" y="804.10" width="10.44" height="0.80" fill="#9467bd"/>
<rect x="1637.26" y="807.00" width="10.44" height="1.00" fill="#bcbd22"/>
<rect x="1637.26" y="806.00" width="10.44" height="1.00" fill="#e377c2"/>
<rect x="1637.26" y="804.90" width="10.44" height="1.10" fill="#8c564b"/>
<rect x="1637.26" y="804.10" width="10.44" height="0.80" fill="#9467bd"/>
<rect x="1647.70" y="807.00" width="10.45" height="1.00" fill="#7f7f7f"/>
<rect x="1647.70" y="806.00" width="10.45" height="1.00" fill="#e377c2"/>
<rect x="1647.70" y="804.90" width="10.45" height="1.10" fill="#8c564b"/>
<rect x="1647.70" y="804.10" width="10.45" height="0.80" fill="#d62728"/>
<rect x="1658.15" y="807.00" width="10.44" height="1.00" fill="#7f7f7f"/>
<rect x="1658.15" y="804.90" width="10.44" height="2.10" fill="#8c564b"/>
<rect x="1658.15" y="804.10" width="10.44" height="0.80" fill="#d62728"/>
<rect x="1668.60" y="807.00" width="10.44" height="1.00" fill="#7f7f7f"/>
<rect x="1668.60" y="804.90" width="10.44" height="2.10" fill="#8c564b"/>
<rect x="1679.04" y="807.00" width="10.45" height="1.00" fill="#7f7f7f"/>
<rect x="1679.04" y="804.90" width="10.45" height="2.10" fill="#8c564b"/>
<rect x="1689.49" y="807.00" width="10.44" height="1.00" fill="#7f7f7f"/>
<rect x="1689.49" y="804.90" width="10.44" height="2.10" fill="#8c564b"/>
<rect x="1699.93" y="807.00" width="10.07" height="1.00" fill="#7f7f7f"/>
<rect x="1699.93" y="805.80" width="10.07" height="1.20" fill="#8c564b"/>
<rect x="1699.93" y="804.90" width="10.07" height="0.90" fill="#9467bd"/>
</g>
<rect x="144.2" y="722.15" width="1565.8" height="1.7" fill="#333" fill-opacity="0.2"/>
<rect x="144.2" y="635.05" width="1565.8" height="1.7" fill="#333" fill-opacity="0.2"/>
<rect x="144.2" y="547.45" width="1565.8" height="1.7" fill="#333" fill-opacity="0.2"/>
<rect x="144.2" y="460.05" width="1565.8" height="1.7" fill="#333" fill-opacity="0.2"/>
<rect x="144.2" y="373.15" width="1565.8" height="1.7" fill="#333" fill-opacity="0.2"/>
<rect x="144.2" y="286.15" width="1565.8" height="1.7" fill="#333" fill-opacity="0.2"/>
<rect x="144.2" y="199.15" width="1565.8" height="1.7" fill="#333" fill-opacity="0.2"/>
<rect x="144.2" y="112.45" width="1565.8" height="1.7" fill="#333" fill-opacity="0.2"/>
<rect x="144.2" y="808" width="1565.8" height="2" fill="#000"/>
<rect x="926" y="113.1" width="3" height="696.9" fill="#000"/>
<rect x="154" y="113" width="1" height="697" fill="#fff" fill-opacity="0.55"/>
<rect x="165" y="113" width="1" height="697" fill="#fff" fill-opacity="0.55"/>
<rect x="175" y="113" width="1" height="697" fill="#fff" fill-opacity="0.55"/>
<rect x="186" y="113" width="1" height="697" fill="#fff" fill-opacity="0.55"/>
<rect x="196" y="113" width="1" height="697" fill="#fff" fill-opacity="0.55"/>
<rect x="207" y="113" width="1" height="697" fill="#fff" fill-opacity="0.55"/>
<rect x="217" y="113" width="1" height="697" fill="#fff" fill-opacity="0.55"/>
<rect x="227" y="113" width="1" height="697" fill="#fff" fill-opacity="0.55"/>
<rect x="238" y="113" width="1" height="697" fill="#fff" fill-opacity="0.55"/>
<rect x="248" y="113" width="1" height="697" fill="#fff" fill-opacity="0.55"/>
<rect x="259" y="113" width="1" height="697" fill="#fff" fill-opacity="0.55"/>
<rect x="269" y="113" width="1" height="697" fill="#fff" fill-opacity="0.55"/>
<rect x="280" y="113" width="1" height="697" fill="#fff" fill-opacity="0.55"/>
<rect x="290" y="113" width="1" height="697" fill="#fff" fill-opacity="0.55"/>
<rect x="301" y="113" width="1" height="697" fill="#fff" fill-opacity="0.55"/>
<rect x="311" y="113" width="1" height="697" fill="#fff" fill-opacity="0.55"/>
<rect x="321" y="113" width="1" height="697" fill="#fff" fill-opacity="0.55"/>
<rect x="332" y="113" width="1" height="697" fill="#fff" fill-opacity="0.55"/>
<rect x="342" y="113" width="1" height="697" fill="#fff" fill-opacity="0.55"/>
<rect x="353" y="113" width="1" height="697" fill="#fff" fill-opacity="0.55"/>
<rect x="363" y="113" width="1" height="697" fill="#fff" fill-opacity="0.55"/>
<rect x="374" y="113" width="1" height="697" fill="#fff" fill-opacity="0.55"/>
<rect x="384" y="113" width="1" height="697" fill="#fff" fill-opacity="0.55"/>
<rect x="395" y="113" width="1" height="697" fill="#fff" fill-opacity="0.55"/>
<rect x="405" y="113" width="1" height="697" fill="#fff" fill-opacity="0.55"/>
<rect x="415" y="113" width="1" height="697" fill="#fff" fill-opacity="0.55"/>
<rect x="426" y="113" width="1" height="697" fill="#fff" fill-opacity="0.55"/>
<rect x="436" y="113" width="1" height="697" fill="#fff" fill-opacity="0.55"/>
<rect x="447" y="113" width="1" height="697" fill="#fff" fill-opacity="0.55"/>
<rect x="457" y="113" width="1" height="697" fill="#fff" fill-opacity="0.55"/>
<rect x="468" y="113" width="1" height="697" fill="#fff" fill-opacity="0.55"/>
<rect x="478" y="113" width="1" height="697" fill="#fff" fill-opacity="0.55"/>
<rect x="489" y="113" width="1" height="697" fill="#fff" fill-opacity="0.55"/>
<rect x="499" y="113" width="1" height="697" fill="#fff" fill-opacity="0.55"/>
<rect x="509" y="113" width="1" height="697" fill="#fff" fill-opacity="0.55"/>
<rect x="520" y="113" width="1" height="697" fill="#fff" fill-opacity="0.55"/>
<rect x="530" y="113" width="1" height="697" fill="#fff" fill-opacity="0.55"/>
<rect x="541" y="113" width="1" height="697" fill="#fff" fill-opacity="0.55"/>
<rect x="551" y="113" width="1" height="697" fill="#fff" fill-opacity="0.55"/>
<rect x="562" y="113" width="1" height="697" fill="#fff" fill-opacity="0.55"/>
<rect x="572" y="113" width="1" height="697" fill="#fff" fill-opacity="0.55"/>
<rect x="583" y="113" width="1" height="697" fill="#fff" fill-opacity="0.55"/>
<rect x="593" y="113" width="1" height="697" fill="#fff" fill-opacity="0.55"/>
<rect x="603" y="113" width="1" height="697" fill="#fff" fill-opacity="0.55"/>
<rect x="614" y="113" width="1" height="697" fill="#fff" fill-opacity="0.55"/>
<rect x="624" y="113" width="1" height="697" fill="#fff" fill-opacity="0.55"/>
<rect x="635" y="113" width="1" height="697" fill="#fff" fill-opacity="0.55"/>
<rect x="645" y="113" width="1" height="697" fill="#fff" fill-opacity="0.55"/>
<rect x="656" y="113" width="1" height="697" fill="#fff" fill-opacity="0.55"/>
<rect x="666" y="113" width="1" height="697" fill="#fff" fill-opacity="0.55"/>
<rect x="677" y="113" width="1" height="697" fill="#fff" fill-opacity="0.55"/>
<rect x="687" y="113" width="1" height="697" fill="#fff" fill-opacity="0.55"/>
<rect x="697" y="113" width="1" height="697" fill="#fff" fill-opacity="0.55"/>
<rect x="708" y="113" width="1" height="697" fill="#fff" fill-opacity="0.55"/>
<rect x="718" y="113" width="1" height="697" fill="#fff" fill-opacity="0.55"/>
<rect x="729" y="113" width="1" height="697" fill="#fff" fill-opacity="0.55"/>
<rect x="739" y="113" width="1" height="697" fill="#fff" fill-opacity="0.55"/>
<rect x="750" y="113" width="1" height="697" fill="#fff" fill-opacity="0.55"/>
<rect x="760" y="113" width="1" height="697" fill="#fff" fill-opacity="0.55"/>
<rect x="771" y="113" width="1" height="697" fill="#fff" fill-opacity="0.55"/>
<rect x="781" y="113" width="1" height="697" fill="#fff" fill-opacity="0.55"/>
<rect x="791" y="113" width="1" height="697" fill="#fff" fill-opacity="0.55"/>
<rect x="802" y="113" width="1" height="697" fill="#fff" fill-opacity="0.55"/>
<rect x="812" y="113" width="1" height="697" fill="#fff" fill-opacity="0.55"/>
<rect x="823" y="113" width="1" height="697" fill="#fff" fill-opacity="0.55"/>
<rect x="833" y="113" width="1" height="697" fill="#fff" fill-opacity="0.55"/>
<rect x="844" y="113" width="1" height="697" fill="#fff" fill-opacity="0.55"/>
<rect x="854" y="113" width="1" height="697" fill="#fff" fill-opacity="0.55"/>
<rect x="865" y="113" width="1" height="697" fill="#fff" fill-opacity="0.55"/>
<rect x="875" y="113" width="1" height="697" fill="#fff" fill-opacity="0.55"/>
<rect x="885" y="113" width="1" height="697" fill="#fff" fill-opacity="0.55"/>
<rect x="896" y="113" width="1" height="697" fill="#fff" fill-opacity="0.55"/>
<rect x="906" y="113" width="1" height="697" fill="#fff" fill-opacity="0.55"/>
<rect x="917" y="113" width="1" height="697" fill="#fff" fill-opacity="0.55"/>
<rect x="927" y="113" width="1" height="697" fill="#fff" fill-opacity="0.55"/>
<rect x="938" y="113" width="1" height="697" fill="#fff" fill-opacity="0.55"/>
<rect x="948" y="113" width="1" height="697" fill="#fff" fill-opacity="0.55"/>
<rect x="959" y="113" width="1" height="697" fill="#fff" fill-opacity="0.55"/>
<rect x="969" y="113" width="1" height="697" fill="#fff" fill-opacity="0.55"/>
<rect x="979" y="113" width="1" height="697" fill="#fff" fill-opacity="0.55"/>
<rect x="990" y="113" width="1" height="697" fill="#fff" fill-opacity="0.55"/>
<rect x="1000" y="113" width="1" height="697" fill="#fff" fill-opacity="0.55"/>
<rect x="1011" y="113" width="1" height="697" fill="#fff" fill-opacity="0.55"/>
<rect x="1021" y="113" width="1" height="697" fill="#fff" fill-opacity="0.55"/>
<rect x="1032" y="113" width="1" height="697" fill="#fff" fill-opacity="0.55"/>
<rect x="1042" y="113" width="1" height="697" fill="#fff" fill-opacity="0.55"/>
<rect x="1053" y="113" width="1" height="697" fill="#fff" fill-opacity="0.55"/>
<rect x="1063" y="113" width="1" height="697" fill="#fff" fill-opacity="0.55"/>
<rect x="1073" y="113" width="1" height="697" fill="#fff" fill-opacity="0.55"/>
<rect x="1084" y="113" width="1" height="697" fill="#fff" fill-opacity="0.55"/>
<rect x="1094" y="113" width="1" height="697" fill="#fff" fill-opacity="0.55"/>
<rect x="1105" y="113" width="1" height="697" fill="#fff" fill-opacity="0.55"/>
<rect x="1115" y="113" width="1" height="697" fill="#fff" fill-opacity="0.55"/>
<rect x="1126" y="113" width="1" height="697" fill="#fff" fill-opacity="0.55"/>
<rect x="1136" y="113" width="1" height="697" fill="#fff" fill-opacity="0.55"/>
<rect x="1147" y="113" width="1" height="697" fill="#fff" fill-opacity="0.55"/>
<rect x="1157" y="113" width="1" height="697" fill="#fff" fill-opacity="0.55"/>
<rect x="1167" y="113" width="1" height="697" fill="#fff" fill-opacity="0.55"/>
<rect x="1178" y="113" width="1" height="697" fill="#fff" fill-opacity="0.55"/>
<rect x="1188" y="113" width="1" height="697" fill="#fff" fill-opacity="0.55"/>
<rect x="1199" y="113" width="1" height="697" fill="#fff" fill-opacity="0.55"/>
<rect x="1209" y="113" width="1" height="697" fill="#fff" fill-opacity="0.55"/>
<rect x="1220" y="113" width="1" height="697" fill="#fff" fill-opacity="0.55"/>
<rect x="1230" y="113" width="1" height="697" fill="#fff" fill-opacity="0.55"/>
<rect x="1241" y="113" width="1" height="697" fill="#fff" fill-opacity="0.55"/>
<rect x="1251" y="113" width="1" height="697" fill="#fff" fill-opacity="0.55"/>
<rect x="1261" y="113" width="1" height="697" fill="#fff" fill-opacity="0.55"/>
<rect x="1272" y="113" width="1" height="697" fill="#fff" fill-opacity="0.55"/>
<rect x="1282" y="113" width="1" height="697" fill="#fff" fill-opacity="0.55"/>
<rect x="1293" y="113" width="1" height="697" fill="#fff" fill-opacity="0.55"/>
<rect x="1303" y="113" width="1" height="697" fill="#fff" fill-opacity="0.55"/>
<rect x="1314" y="113" width="1" height="697" fill="#fff" fill-opacity="0.55"/>
<rect x="1324" y="113" width="1" height="697" fill="#fff" fill-opacity="0.55"/>
<rect x="1335" y="113" width="1" height="697" fill="#fff" fill-opacity="0.55"/>
<rect x="1345" y="113" width="1" height="697" fill="#fff" fill-opacity="0.55"/>
<rect x="1355" y="113" width="1" height="697" fill="#fff" fill-opacity="0.55"/>
<rect x="1366" y="113" width="1" height="697" fill="#fff" fill-opacity="0.55"/>
<rect x="1376" y="113" width="1" height="697" fill="#fff" fill-opacity="0.55"/>
<rect x="1387" y="113" width="1" height="697" fill="#fff" fill-opacity="0.55"/>
<rect x="1397" y="113" width="1" height="697" fill="#fff" fill-opacity="0.55"/>
<rect x="1408" y="113" width="1" height="697" fill="#fff" fill-opacity="0.55"/>
<rect x="1418" y="113" width="1" height="697" fill="#fff" fill-opacity="0.55"/>
<rect x="1429" y="113" width="1" height="697" fill="#fff" fill-opacity="0.55"/>
<rect x="1439" y="113" width="1" height="697" fill="#fff" fill-opacity="0.55"/>
<rect x="1450" y="113" width="1" height="697" fill="#fff" fill-opacity="0.55"/>
<rect x="1460" y="113" width="1" height="697" fill="#fff" fill-opacity="0.55"/>
<rect x="1470" y="113" width="1" height="697" fill="#fff" fill-opacity="0.55"/>
<rect x="1481" y="113" width="1" height="697" fill="#fff" fill-opacity="0.55"/>
<rect x="1491" y="113" width="1" height="697" fill="#fff" fill-opacity="0.55"/>
<rect x="1502" y="113" width="1" height="697" fill="#fff" fill-opacity="0.55"/>
<rect x="1512" y="113" width="1" height="697" fill="#fff" fill-opacity="0.55"/>
<rect x="1523" y="113" width="1" height="697" fill="#fff" fill-opacity="0.55"/>
<rect x="1533" y="113" width="1" height="697" fill="#fff" fill-opacity="0.55"/>
<rect x="1544" y="113" width="1" height="697" fill="#fff" fill-opacity="0.55"/>
<rect x="1554" y="113" width="1" height="697" fill="#fff" fill-opacity="0.55"/>
<rect x="1564" y="113" width="1" height="697" fill="#fff" fill-opacity="0.55"/>
<rect x="1575" y="113" width="1" height="697" fill="#fff" fill-opacity="0.55"/>
<rect x="1585" y="113" width="1" height="697" fill="#fff" fill-opacity="0.55"/>
<rect x="1596" y="113" width="1" height="697" fill="#fff" fill-opacity="0.55"/>
<rect x="1606" y="113" width="1" height="697" fill="#fff" fill-opacity="0.55"/>
<rect x="1617" y="113" width="1" height="697" fill="#fff" fill-opacity="0.55"/>
<rect x="1627" y="113" width="1" height="697" fill="#fff" fill-opacity="0.55"/>
<rect x="1638" y="113" width="1" height="697" fill="#fff" fill-opacity="0.55"/>
<rect x="1648" y="113" width="1" height="697" fill="#fff" fill-opacity="0.55"/>
<rect x="1658" y="113" width="1" height="697" fill="#fff" fill-opacity="0.55"/>
<rect x="1669" y="113" width="1" height="697" fill="#fff" fill-opacity="0.55"/>
<rect x="1679" y="113" width="1" height="697" fill="#fff" fill-opacity="0.55"/>
<rect x="1690" y="113" width="1" height="697" fill="#fff" fill-opacity="0.55"/>
<rect x="1700" y="113" width="1" height="697" fill="#fff" fill-opacity="0.55"/>
<rect x="194.85" y="810" width="2" height="10" fill="#000"/>
<text x="174.84" y="843.60" font-size="22.8" fill="#000" textLength="42.59" lengthAdjust="spacingAndGlyphs">−70</text>
<rect x="299.30" y="810" width="2" height="10" fill="#000"/>
<text x="279.29" y="843.60" font-size="22.8" fill="#000" textLength="42.59" lengthAdjust="spacingAndGlyphs">−60</text>
<rect x="403.75" y="810" width="2" height="10" fill="#000"/>
<text x="383.74" y="843.60" font-size="22.8" fill="#000" textLength="42.59" lengthAdjust="spacingAndGlyphs">−50</text>
<rect x="508.20" y="810" width="2" height="10" fill="#000"/>
<text x="488.19" y="843.60" font-size="22.8" fill="#000" textLength="42.59" lengthAdjust="spacingAndGlyphs">−40</text>
<rect x="612.65" y="810" width="2" height="10" fill="#000"/>
<text x="592.64" y="843.60" font-size="22.8" fill="#000" textLength="42.59" lengthAdjust="spacingAndGlyphs">−30</text>
<rect x="717.10" y="810" width="2" height="10" fill="#000"/>
<text x="697.09" y="843.60" font-size="22.8" fill="#000" textLength="42.59" lengthAdjust="spacingAndGlyphs">−20</text>
<rect x="821.55" y="810" width="2" height="10" fill="#000"/>
<text x="801.54" y="843.60" font-size="22.8" fill="#000" textLength="42.59" lengthAdjust="spacingAndGlyphs">−10</text>
<rect x="926.00" y="810" width="2" height="10" fill="#000"/>
<text x="920.89" y="843.60" font-size="22.8" fill="#000" textLength="12.21" lengthAdjust="spacingAndGlyphs">0</text>
<rect x="1030.45" y="810" width="2" height="10" fill="#000"/>
<text x="1018.74" y="843.60" font-size="22.8" fill="#000" textLength="25.47" lengthAdjust="spacingAndGlyphs">10</text>
<rect x="1134.90" y="810" width="2" height="10" fill="#000"/>
<text x="1123.01" y="843.60" font-size="22.8" fill="#000" textLength="25.66" lengthAdjust="spacingAndGlyphs">20</text>
<rect x="1239.35" y="810" width="2" height="10" fill="#000"/>
<text x="1227.82" y="843.60" font-size="22.8" fill="#000" textLength="25.29" lengthAdjust="spacingAndGlyphs">30</text>
<rect x="1343.80" y="810" width="2" height="10" fill="#000"/>
<text x="1332.04" y="843.60" font-size="22.8" fill="#000" textLength="25.53" lengthAdjust="spacingAndGlyphs">40</text>
<rect x="1448.25" y="810" width="2" height="10" fill="#000"/>
<text x="1436.69" y="843.60" font-size="22.8" fill="#000" textLength="25.32" lengthAdjust="spacingAndGlyphs">50</text>
<rect x="1552.70" y="810" width="2" height="10" fill="#000"/>
<text x="1540.73" y="843.60" font-size="22.8" fill="#000" textLength="25.75" lengthAdjust="spacingAndGlyphs">60</text>
<rect x="1657.15" y="810" width="2" height="10" fill="#000"/>
<text x="1645.43" y="843.60" font-size="22.8" fill="#000" textLength="25.48" lengthAdjust="spacingAndGlyphs">70</text>
<text x="123.65" y="817.75" font-size="22.8" fill="#000" textLength="12.21" lengthAdjust="spacingAndGlyphs">0</text>
<text x="50.74" y="730.60" font-size="22.8" fill="#000" textLength="85.18" lengthAdjust="spacingAndGlyphs">100,000</text>
<text x="50.58" y="643.50" font-size="22.8" fill="#000" textLength="85.34" lengthAdjust="spacingAndGlyphs">200,000</text>
<text x="50.94" y="555.90" font-size="22.8" fill="#000" textLength="84.98" lengthAdjust="spacingAndGlyphs">300,000</text>
<text x="50.72" y="468.50" font-size="22.8" fill="#000" textLength="85.20" lengthAdjust="spacingAndGlyphs">400,000</text>
<text x="50.91" y="381.60" font-size="22.8" fill="#000" textLength="85.01" lengthAdjust="spacingAndGlyphs">500,000</text>
<text x="50.50" y="294.60" font-size="22.8" fill="#000" textLength="85.42" lengthAdjust="spacingAndGlyphs">600,000</text>
<text x="50.75" y="207.60" font-size="22.8" fill="#000" textLength="85.17" lengthAdjust="spacingAndGlyphs">700,000</text>
<text x="50.63" y="120.00" font-size="22.8" fill="#000" textLength="85.29" lengthAdjust="spacingAndGlyphs">800,000</text>
<text x="143.85" y="63.75" font-size="37.4" font-weight="bold" fill="#1c1c1c" textLength="1133.93" lengthAdjust="spacingAndGlyphs">Titan Builder Leverages Builder Instances in Multiple Geographies</text>
<text x="142.64" y="97.00" font-size="28.6" fill="#1c1c1c" textLength="1255.80" lengthAdjust="spacingAndGlyphs">Difference between bid arrival times between bloXroute Regulated and Ultrasound EU in July 2024</text>
<text x="842.66" y="871.90" font-size="22.8" fill="#000" textLength="168.36" lengthAdjust="spacingAndGlyphs">Time Delta [ms]</text>
<text transform="translate(37.30,499.00) rotate(-90)" x="-1.15" y="0" font-size="22.8" fill="#000" textLength="71.49" lengthAdjust="spacingAndGlyphs">Counts</text>
<text x="216.32" y="877.80" font-size="22.8" font-weight="bold" fill="#000" textLength="466.47" lengthAdjust="spacingAndGlyphs">First seen at bloXroute Regulated relay</text>
<text x="1154.24" y="878.00" font-size="22.8" font-weight="bold" fill="#000" textLength="390.39" lengthAdjust="spacingAndGlyphs">First seen at Ultrasound EU relay</text>
<text x="1506.10" y="146.80" font-size="22.8" fill="#000" textLength="155.76" lengthAdjust="spacingAndGlyphs">Builder Pubkey</text>
<rect x="1507" y="163.10" width="41.8" height="14.6" fill="#1f77b4"/>
<text x="1566.28" y="177.50" font-size="22.8" fill="#000" textLength="123.44" lengthAdjust="spacingAndGlyphs">0xa94a51...</text>
<rect x="1507" y="193.49" width="41.8" height="14.6" fill="#ff7f0e"/>
<text x="1566.28" y="207.89" font-size="22.8" fill="#000" textLength="122.91" lengthAdjust="spacingAndGlyphs">0xa32aad...</text>
<rect x="1507" y="223.88" width="41.8" height="14.6" fill="#2ca02c"/>
<text x="1566.27" y="238.28" font-size="22.8" fill="#000" textLength="109.88" lengthAdjust="spacingAndGlyphs">0xae2ffc...</text>
<rect x="1507" y="254.27" width="41.8" height="14.6" fill="#d62728"/>
<text x="1566.26" y="268.67" font-size="22.8" fill="#000" textLength="110.83" lengthAdjust="spacingAndGlyphs">0x946fcf...</text>
<rect x="1507" y="284.66" width="41.8" height="14.6" fill="#9467bd"/>
<text x="1566.27" y="299.06" font-size="22.8" fill="#000" textLength="123.91" lengthAdjust="spacingAndGlyphs">0xb4a435...</text>
<rect x="1507" y="315.05" width="41.8" height="14.6" fill="#8c564b"/>
<text x="1566.28" y="329.45" font-size="22.8" fill="#000" textLength="123.41" lengthAdjust="spacingAndGlyphs">0xa9d0a0...</text>
<rect x="1507" y="345.44" width="41.8" height="14.6" fill="#e377c2"/>
<text x="1566.28" y="359.84" font-size="22.8" fill="#000" textLength="122.96" lengthAdjust="spacingAndGlyphs">0xb67eaa...</text>
<rect x="1507" y="375.83" width="41.8" height="14.6" fill="#7f7f7f"/>
<text x="1566.28" y="390.23" font-size="22.8" fill="#000" textLength="119.01" lengthAdjust="spacingAndGlyphs">0x95c8cc...</text>
<rect x="1507" y="406.22" width="41.8" height="14.6" fill="#bcbd22"/>
<text x="1566.26" y="420.62" font-size="22.8" fill="#000" textLength="118.51" lengthAdjust="spacingAndGlyphs">0xb26f96...</text>
</svg></body></html>
